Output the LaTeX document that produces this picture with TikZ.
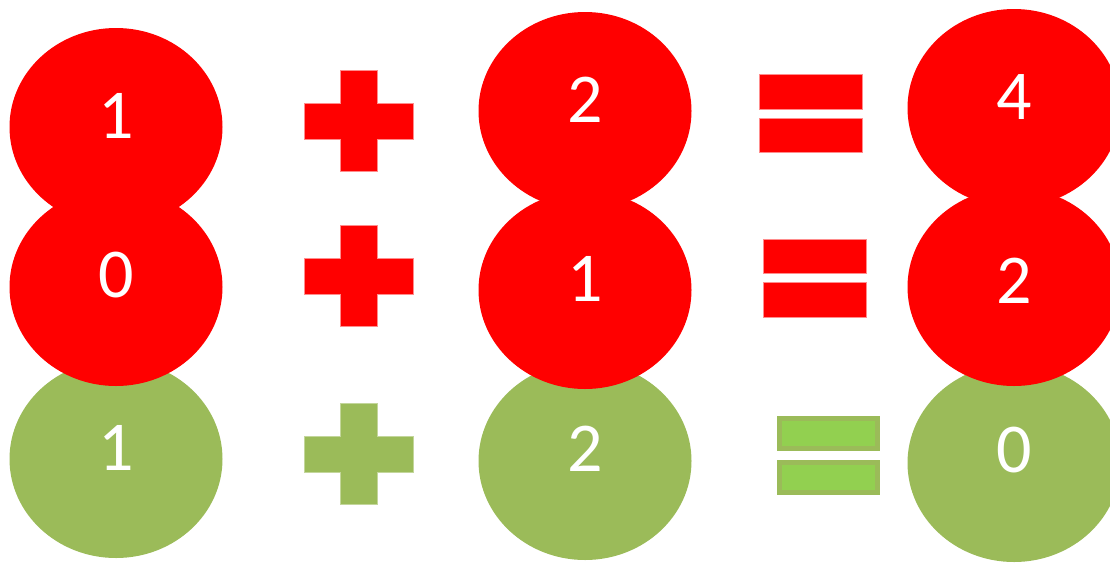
\documentclass[tikz,border=0pt]{standalone}
\usepackage{fontspec}
\setmainfont{Carlito}
\usetikzlibrary{shapes.geometric}
\definecolor{pred}{HTML}{FF0000}
\definecolor{pgreen}{HTML}{9BBB59}
\definecolor{plight}{HTML}{92D050}
\begin{document}
\begin{tikzpicture}[x=1pt,y=-1pt,
  ball/.style={ellipse, minimum width=213pt, minimum height=198pt, inner sep=0pt, fill=#1},
  digit/.style={text=white, font=\fontsize{70}{70}\selectfont, inner sep=0pt},
  redshape/.style={fill=pred, draw=red!45, line width=0.6pt},
  greenshape/.style={fill=pgreen, draw=pgreen!60, line width=0.6pt},
  greenbar/.style={fill=plight, draw=pgreen, line width=5pt},
]
\useasboundingbox (0,0) rectangle (1110,563);
% green (bottom row) first, red on top
\node[ball=pgreen] (g1) at (116,459) {};
\node[ball=pgreen] (g2) at (585,461) {};
\node[ball=pgreen] (g3) at (1014,463) {};
\node[ball=pred] (a1) at (116,127) {};
\node[ball=pred] (b1) at (116,287) {};
\node[ball=pred] (a2) at (585,111) {};
\node[ball=pred] (b2) at (585,290) {};
\node[ball=pred] (a3) at (1014,108) {};
\node[ball=pred] (b3) at (1014,287) {};
% digits
\node[digit] (ta1) at ([yshift=11pt]a1.center) {1};
\node[digit] (tb1) at ([yshift=12pt]b1.center) {0};
\node[digit] (tg1) at ([yshift=11pt]g1.center) {1};
\node[digit] (ta2) at ([yshift=11pt]a2.center) {2};
\node[digit] (tb2) at ([yshift=11pt]b2.center) {1};
\node[digit] (tg2) at ([yshift=12pt]g2.center) {2};
\node[digit] (ta3) at ([yshift=11pt]a3.center) {4};
\node[digit] (tb3) at ([yshift=6pt]b3.center) {2};
\node[digit] (tg3) at ([yshift=13pt]g3.center) {0};
% plus signs
\path[redshape] (340,70) -| (377,103) -| (413,139) -| (377,171) -| (340,139) -| (304,103) -| (340,70) -- cycle;
\begin{scope}[yshift=-155pt]
\path[redshape] (340,70) -| (377,103) -| (413,139) -| (377,171) -| (340,139) -| (304,103) -| (340,70) -- cycle;
\end{scope}
\begin{scope}[yshift=-333pt]
\path[greenshape] (340,70) -| (377,103) -| (413,139) -| (377,171) -| (340,139) -| (304,103) -| (340,70) -- cycle;
\end{scope}
% equals signs
\path[redshape] (759,74) rectangle (862,109);
\path[redshape] (759,118) rectangle (862,152);
\path[redshape] (763,239) rectangle (866,273);
\path[redshape] (763,282) rectangle (866,317);
\path[greenbar] (779.5,418.5) rectangle (877.5,448.5);
\path[greenbar] (779.5,462.5) rectangle (877.5,492.5);
\end{tikzpicture}
\end{document}
